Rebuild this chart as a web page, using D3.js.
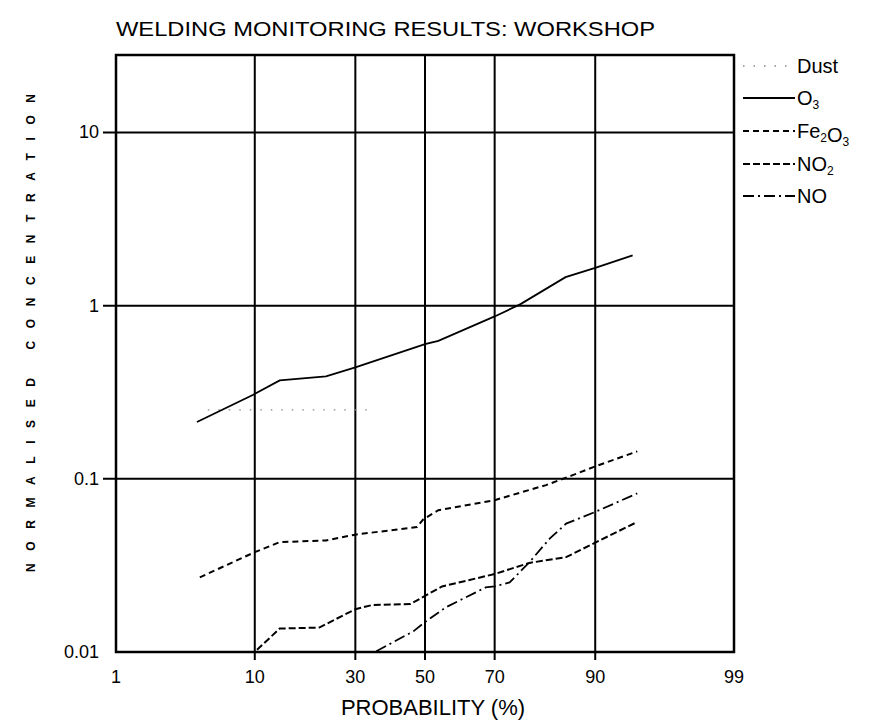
<!DOCTYPE html>
<html>
<head>
<meta charset="utf-8">
<script src="https://cdn.jsdelivr.net/npm/d3@7"></script>
<style>
body { margin: 0; background: #fff; }
svg { display: block; }
text { font-family: "Liberation Sans", Arial, sans-serif; fill: #000; }
</style>
</head>
<body>
<svg id="chart" width="872" height="724"></svg>
<script>
// probability ticks (%) and concentration ticks
var probTicks = [1, 10, 30, 50, 70, 90, 99];
var concTicks = [0.01, 0.1, 1, 10];
var concLabels = ["0.01", "0.1", "1", "10"];

// series: probability (%) and normalised concentration
var dustP = [5.1, 10, 14, 23, 30, 33.4];
var dustV = [0.25, 0.25, 0.25, 0.25, 0.25, 0.25];

var o3P = [4.3, 9.8, 13.7, 22.8, 30, 50, 54, 70, 76.4, 85.5, 90, 94.1];
var o3V = [0.213, 0.306, 0.37, 0.39, 0.44, 0.60, 0.626, 0.866, 1.02, 1.46, 1.65, 1.95];

var fe2o3P = [4.5, 10, 13.7, 22.8, 30, 47.6, 49.5, 54, 70, 81.9, 86.7, 90, 94.5];
var fe2o3V = [0.027, 0.0377, 0.0431, 0.0441, 0.0476, 0.0527, 0.0584, 0.0659, 0.0753, 0.092, 0.105, 0.118, 0.144];

var no2P = [10.3, 13.7, 21.3, 30, 34.7, 45.6, 50, 55.1, 70, 78.4, 85.6, 90, 94.5];
var no2V = [0.0103, 0.01365, 0.01384, 0.01767, 0.0187, 0.0189, 0.0211, 0.0239, 0.0282, 0.0327, 0.0353, 0.0428, 0.0564];

var noP = [35.7, 46.6, 49.5, 56.2, 67.6, 70, 73.8, 78.4, 82.6, 85.6, 90, 94.5];
var noV = [0.0101, 0.0132, 0.01465, 0.0181, 0.0236, 0.0239, 0.0252, 0.033, 0.0451, 0.0551, 0.0644, 0.0824];

// inverse normal cdf (Acklam) for the probability axis
function probit(p) {
    var a = [-39.69683028665376, 220.9460984245205, -275.9285104469687, 138.3577518672690, -30.66479806614716, 2.506628277459239];
    var b = [-54.47609879822406, 161.5858368580409, -155.6989798598866, 66.80131188771972, -13.28068155288572];
    var c = [-0.007784894002430293, -0.3223964580411365, -2.400758277161838, -2.549732539343734, 4.374664141464968, 2.938163982698783];
    var d = [0.007784695709041462, 0.3224671290700398, 2.445134137142996, 3.754408661907416];
    var q, r;
    if (p < 0.02425) {
        q = Math.sqrt(-2 * Math.log(p));
        return (((((c[0]*q+c[1])*q+c[2])*q+c[3])*q+c[4])*q+c[5]) / ((((d[0]*q+d[1])*q+d[2])*q+d[3])*q+1);
    }
    if (p > 1 - 0.02425) {
        q = Math.sqrt(-2 * Math.log(1 - p));
        return -(((((c[0]*q+c[1])*q+c[2])*q+c[3])*q+c[4])*q+c[5]) / ((((d[0]*q+d[1])*q+d[2])*q+d[3])*q+1);
    }
    q = p - 0.5; r = q * q;
    return (((((a[0]*r+a[1])*r+a[2])*r+a[3])*r+a[4])*r+a[5])*q / (((((b[0]*r+b[1])*r+b[2])*r+b[3])*r+b[4])*r+1);
}

var svg = d3.select("#chart");
var plotL = 116, plotR = 734, plotT = 55, plotB = 652;

var z = d3.scaleLinear()
    .domain([probit(0.01), probit(0.99)])
    .range([plotL, plotR]);
var x = function (p) { return z(probit(p / 100)); };

var y = d3.scaleLog()
    .domain([0.01, 28])
    .range([plotB, plotT]);

svg.append("rect").attr("width", 872).attr("height", 724).attr("fill", "#fff");

// title
svg.append("text")
    .attr("x", 116).attr("y", 36)
    .attr("font-size", 21)
    .attr("textLength", 539).attr("lengthAdjust", "spacingAndGlyphs")
    .text("WELDING MONITORING RESULTS: WORKSHOP");

// grid
var grid = svg.append("g").attr("stroke", "#000").attr("stroke-width", 2);
grid.selectAll(".vg").data(probTicks.slice(1, -1)).enter().append("line")
    .attr("x1", function (d) { return x(d); }).attr("x2", function (d) { return x(d); })
    .attr("y1", plotT).attr("y2", plotB + 8);
grid.selectAll(".hg").data(concTicks.slice(1)).enter().append("line")
    .attr("x1", plotL - 13).attr("x2", plotR)
    .attr("y1", function (d) { return y(d); }).attr("y2", function (d) { return y(d); });

// frame
svg.append("rect")
    .attr("x", plotL).attr("y", plotT)
    .attr("width", plotR - plotL).attr("height", plotB - plotT)
    .attr("fill", "none").attr("stroke", "#000").attr("stroke-width", 2.5);

// tick labels
svg.selectAll(".yl").data(concTicks).enter().append("text")
    .attr("x", plotL - 17)
    .attr("y", function (d) { return y(d) + 6; })
    .attr("text-anchor", "end").attr("font-size", 18)
    .text(function (d, i) { return concLabels[i]; });

svg.selectAll(".xl").data(probTicks).enter().append("text")
    .attr("x", function (d) { return x(d); })
    .attr("y", 683)
    .attr("text-anchor", "middle").attr("font-size", 18)
    .text(function (d) { return d; });

svg.append("text")
    .attr("x", 433).attr("y", 715)
    .attr("text-anchor", "middle").attr("font-size", 22)
    .text("PROBABILITY (%)");

svg.append("text")
    .attr("transform", "translate(35,333) rotate(-90)")
    .attr("text-anchor", "middle").attr("font-size", 12).attr("font-weight", "bold")
    .attr("textLength", 478).attr("lengthAdjust", "spacing")
    .text("NORMALISED CONCENTRATION");

// series
var series = [
    { name: "Dust", p: dustP, v: dustV, dash: "1.5,9", width: 1.3, color: "#888" },
    { name: "O3", p: o3P, v: o3V, dash: null, width: 1.8, color: "#000" },
    { name: "Fe2O3", p: fe2o3P, v: fe2o3V, dash: "6,4", width: 2, color: "#000" },
    { name: "NO2", p: no2P, v: no2V, dash: "7,3", width: 2, color: "#000" },
    { name: "NO", p: noP, v: noV, dash: "11,4,2,4", width: 1.8, color: "#000" }
];

var line = d3.line()
    .x(function (d) { return x(d[0]); })
    .y(function (d) { return y(d[1]); });

series.forEach(function (s) {
    svg.append("path")
        .datum(d3.zip(s.p, s.v))
        .attr("d", line)
        .attr("fill", "none")
        .attr("stroke", s.color)
        .attr("stroke-width", s.width)
        .attr("stroke-dasharray", s.dash);
});

// legend
var legY = [66, 98, 131, 164, 196];
var leg = svg.selectAll(".leg").data(series).enter().append("g")
    .attr("transform", function (d, i) { return "translate(743," + legY[i] + ")"; });
leg.append("line")
    .attr("x1", 0).attr("x2", 52)
    .attr("stroke", function (d) { return d.color; })
    .attr("stroke-width", function (d) { return d.width; })
    .attr("stroke-dasharray", function (d) { return d.dash; });

var legText = leg.append("text").attr("x", 54).attr("y", 7).attr("font-size", 20);
legText.each(function (d) {
    var t = d3.select(this);
    // split chemical formula into letters and subscript digits
    d.name.match(/[A-Za-z]+|\d+/g).forEach(function (part) {
        if (/\d/.test(part)) {
            t.append("tspan").attr("font-size", 12).attr("dy", 4).text(part);
            t.append("tspan").attr("dy", -4).text("");
        } else {
            t.append("tspan").text(part);
        }
    });
});
</script>
</body>
</html>
